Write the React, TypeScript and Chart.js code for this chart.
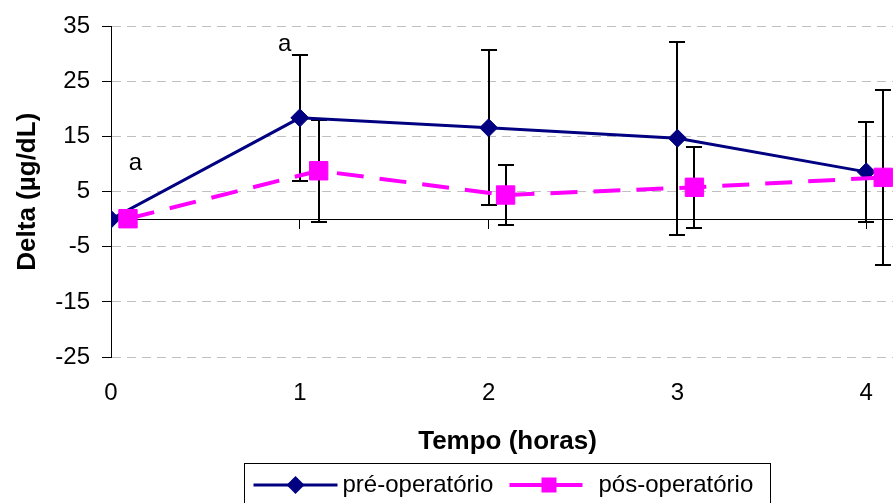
import { useEffect, useRef } from 'react';
import { Chart, registerables } from 'chart.js';

Chart.register(...registerables);

// Mean change (Delta, µg/dL) with standard deviation at each hour
const preHours = [0, 1, 2, 3, 4];
const preMean = [0, 18.4, 16.6, 14.7, 8.6];
const preSd = [0, 11.5, 14.1, 17.5, 9.1];

const postHours = [0.09, 1.1, 2.09, 3.09, 4.09];
const postMean = [0.1, 8.8, 4.4, 5.8, 7.6];
const postSd = [0, 9.3, 5.5, 7.3, 15.9];

const seriesLabels = ['pré-operatório', 'pós-operatório'];

// Significance marks placed in data coordinates
const markText = ['a', 'a'];
const markX = [0.13, 0.92];
const markY = [10.1, 31.8];

const yTicks = { min: -25, max: 35, step: 10 };
const xRange = { min: 0, max: 4.2, step: 1 };

const FONT = "'Liberation Sans', Arial, Helvetica, sans-serif";
const NAVY = '#000080';
const MAGENTA = '#FF00FF';
const TEXT_SIZE = 24;
const TITLE_SIZE = 26;

const errorBarPlugin = {
  id: 'errorBars',
  beforeDatasetsDraw(chart: any) {
    const { ctx } = chart;
    const yScale = chart.scales.y;
    ctx.save();
    ctx.strokeStyle = '#000';
    ctx.lineWidth = 2;
    chart.data.datasets.forEach((ds: any, di: number) => {
      const meta = chart.getDatasetMeta(di);
      const sds: number[] = ds.errorBars || [];
      meta.data.forEach((pt: any, i: number) => {
        const sd = sds[i];
        if (!sd) return;
        const v = ds.data[i].y;
        const x = Math.round(pt.x);
        const yTop = Math.round(yScale.getPixelForValue(v + sd));
        const yBot = Math.round(yScale.getPixelForValue(v - sd));
        ctx.beginPath();
        ctx.moveTo(x, yTop);
        ctx.lineTo(x, yBot);
        ctx.moveTo(x - 8, yTop);
        ctx.lineTo(x + 8, yTop);
        ctx.moveTo(x - 8, yBot);
        ctx.lineTo(x + 8, yBot);
        ctx.stroke();
      });
    });
    ctx.restore();
  },
};

const marksPlugin = {
  id: 'marks',
  afterDatasetsDraw(chart: any) {
    const { ctx } = chart;
    const xs = chart.scales.x;
    const ys = chart.scales.y;
    ctx.save();
    ctx.fillStyle = '#000';
    ctx.font = `${TEXT_SIZE}px ${FONT}`;
    ctx.textAlign = 'center';
    ctx.textBaseline = 'middle';
    markText.forEach((t, i) => {
      ctx.fillText(t, xs.getPixelForValue(markX[i]), ys.getPixelForValue(markY[i]));
    });
    ctx.restore();
  },
};

function drawDiamond(ctx: CanvasRenderingContext2D, x: number, y: number, r: number, color: string) {
  ctx.fillStyle = color;
  ctx.beginPath();
  ctx.moveTo(x - r, y);
  ctx.lineTo(x, y - r);
  ctx.lineTo(x + r, y);
  ctx.lineTo(x, y + r);
  ctx.closePath();
  ctx.fill();
}

const boxLegendPlugin = {
  id: 'boxLegend',
  afterDraw(chart: any) {
    const { ctx, chartArea } = chart;
    const ds = chart.data.datasets;
    const cx = (chartArea.left + chartArea.right) / 2;
    const left = Math.round(cx - 264) + 0.5;
    const top = 463.5;
    const y = 485;
    ctx.save();
    ctx.strokeStyle = '#000';
    ctx.lineWidth = 1;
    ctx.strokeRect(left, top, 526, 46);

    ctx.font = `${TEXT_SIZE}px ${FONT}`;
    ctx.textBaseline = 'middle';
    ctx.textAlign = 'left';

    // first entry: solid navy line with diamond
    ctx.strokeStyle = ds[0].borderColor;
    ctx.lineWidth = 3;
    ctx.beginPath();
    ctx.moveTo(left + 9, y);
    ctx.lineTo(left + 93, y);
    ctx.stroke();
    drawDiamond(ctx, left + 51, y, 9, ds[0].borderColor);
    ctx.fillStyle = '#000';
    ctx.fillText(ds[0].label, left + 98, y);

    // second entry: magenta line with square
    ctx.strokeStyle = ds[1].borderColor;
    ctx.lineWidth = 4;
    ctx.beginPath();
    ctx.moveTo(left + 265, y);
    ctx.lineTo(left + 338, y);
    ctx.stroke();
    ctx.fillStyle = ds[1].borderColor;
    ctx.fillRect(left + 297, y - 7.5, 15, 15);
    ctx.fillStyle = '#000';
    ctx.fillText(ds[1].label, left + 354, y);
    ctx.restore();
  },
};

export default function App() {
  const canvasRef = useRef<HTMLCanvasElement | null>(null);

  useEffect(() => {
    const canvas = canvasRef.current;
    if (!canvas) return;
    Chart.defaults.font.family = FONT;
    Chart.defaults.color = '#000';

    const chart = new Chart(canvas, {
      type: 'line',
      data: {
        datasets: [
          {
            label: seriesLabels[0],
            data: preHours.map((h, i) => ({ x: h, y: preMean[i] })),
            errorBars: preSd,
            borderColor: NAVY,
            backgroundColor: NAVY,
            borderWidth: 3,
            pointStyle: 'rectRot',
            pointRadius: 9,
            pointBorderWidth: 1,
            pointBackgroundColor: NAVY,
            pointBorderColor: NAVY,
            tension: 0,
            xAxisID: 'x',
            yAxisID: 'y',
            order: 1,
          } as any,
          {
            label: seriesLabels[1],
            data: postHours.map((h, i) => ({ x: h, y: postMean[i] })),
            errorBars: postSd,
            borderColor: MAGENTA,
            backgroundColor: MAGENTA,
            borderWidth: 4,
            borderDash: [27, 16],
            pointStyle: 'rect',
            pointRadius: 13,
            pointBorderWidth: 1,
            pointBackgroundColor: MAGENTA,
            pointBorderColor: MAGENTA,
            tension: 0,
            xAxisID: 'x',
            yAxisID: 'y',
            order: 0,
          } as any,
        ],
      },
      options: {
        responsive: false,
        devicePixelRatio: 1,
        animation: false,
        layout: { padding: { left: 0, top: 25, right: 16, bottom: 0 } },
        plugins: {
          legend: { display: false },
          tooltip: { enabled: false },
        },
        scales: {
          // axis line crossing at y = 0, with tick marks only
          x: {
            type: 'linear',
            min: xRange.min,
            max: xRange.max,
            position: { y: 0 } as any,
            ticks: { display: false, stepSize: xRange.step, includeBounds: false },
            grid: {
              display: true,
              drawOnChartArea: false,
              drawTicks: true,
              tickLength: 9,
              tickColor: '#000',
              tickWidth: 1,
            },
            border: { display: true, color: '#000', width: 1 },
          },
          // hour labels and title along the bottom
          x2: {
            type: 'linear',
            min: xRange.min,
            max: xRange.max,
            position: 'bottom',
            ticks: {
              stepSize: xRange.step,
              includeBounds: false,
              padding: 22,
              maxRotation: 0,
              autoSkip: false,
              color: '#000',
              font: { size: TEXT_SIZE, family: FONT },
            },
            grid: { display: false, drawTicks: false },
            border: { display: false },
            title: {
              display: true,
              text: 'Tempo (horas)',
              color: '#000',
              font: { size: TITLE_SIZE, weight: 'bold', family: FONT },
              padding: { top: 0, bottom: 46 },
            },
            afterFit: (scale: any) => {
              scale.height = 146;
            },
          },
          y: {
            type: 'linear',
            min: yTicks.min,
            max: yTicks.max,
            ticks: {
              stepSize: yTicks.step,
              padding: 12,
              color: '#000',
              font: { size: TEXT_SIZE, family: FONT },
            },
            grid: {
              color: '#c0c0c0',
              lineWidth: 1,
              drawTicks: true,
              tickLength: 9,
              tickColor: '#000',
              tickWidth: 1,
            },
            border: { display: true, color: '#000', width: 1, dash: [9, 6], dashOffset: 0 },
            title: {
              display: true,
              text: 'Delta (µg/dL)',
              color: '#000',
              font: { size: TITLE_SIZE, weight: 'bold', family: FONT },
              padding: { top: 12, bottom: 0 },
            },
            afterFit: (scale: any) => {
              scale.width = 111;
            },
          },
        },
      } as any,
      plugins: [errorBarPlugin, marksPlugin, boxLegendPlugin],
    });

    return () => chart.destroy();
  }, []);

  return (
    <div
      style={{
        position: 'fixed',
        left: 0,
        top: 0,
        width: 893,
        height: 503,
        overflow: 'hidden',
        background: '#fff',
      }}
    >
      <canvas
        ref={canvasRef}
        width={920}
        height={503}
        style={{ display: 'block', width: 920, height: 503 }}
      />
    </div>
  );
}
